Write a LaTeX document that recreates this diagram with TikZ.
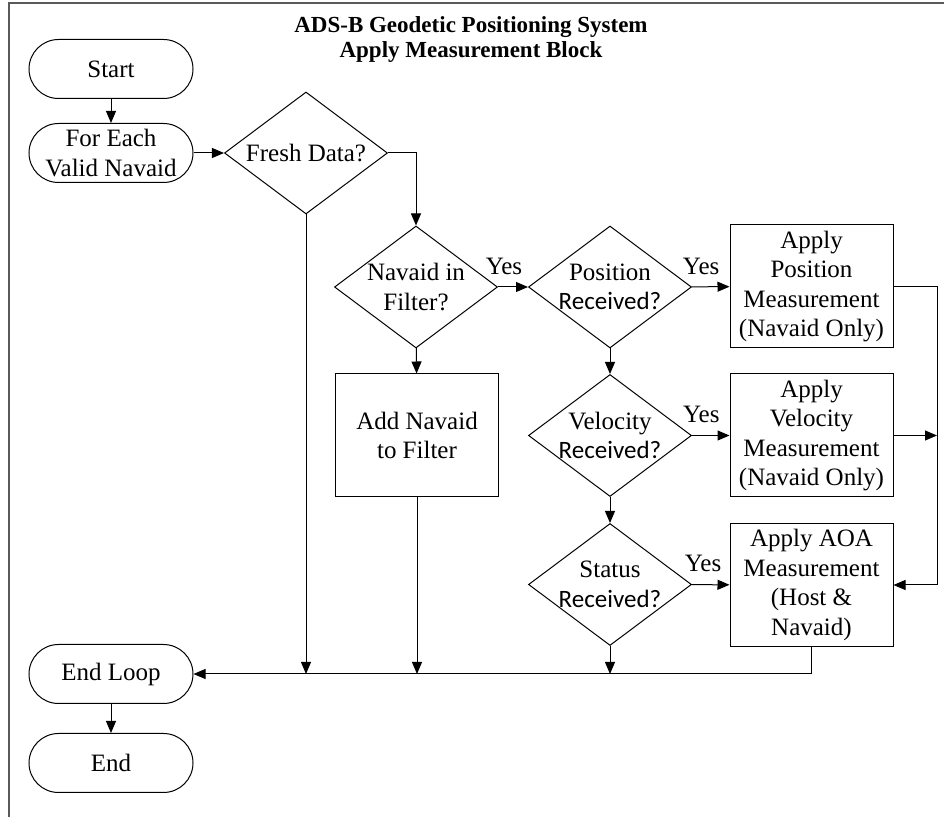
\documentclass[tikz,border=0pt]{standalone}
\usepackage{fontspec}
\setmainfont{Liberation Serif}
\newfontfamily\rcvfont{Carlito}
\usetikzlibrary{arrows.meta,positioning,shapes.geometric,calc}
\newcommand{\rcv}{{\rcvfont Received?}}

\begin{document}
\begin{tikzpicture}[x=0.5pt,y=-0.5pt,>={Triangle[length=6pt,width=5pt]},line width=0.5pt,
  every node/.style={font=\fontsize{12.5}{14.75}\selectfont},
  term/.style={draw,rounded corners=14.75pt,minimum width=82pt,minimum height=29.5pt,align=center,inner sep=0pt},
  proc/.style={draw,minimum width=81.5pt,minimum height=61.5pt,align=center,inner sep=0pt},
  dec/.style={draw,diamond,minimum width=81.5pt,minimum height=61pt,inner sep=0pt},
  yes/.style={inner sep=1pt,above=5pt}]
  \useasboundingbox (0,0) rectangle (944,817);
  \draw[gray!70!black,line width=1pt] (9,817) -- (9,3) -- (944,3);

  \node[font=\bfseries\fontsize{11.5}{12.5}\selectfont,align=center] (title) at (471,40)
    {ADS-B Geodetic Positioning System\\Apply Measurement Block};

  % left column
  \node[term] (start) at (111,69) {Start};
  \node[term] (each) at (111,153) {For Each\\Valid Navaid};
  \node[term] (endloop) at (111,674) {End Loop};
  \node[term] (stop) at (111,763) {End};

  % decisions
  \node[dec,label={center:Fresh Data?}] (fresh) at (306,153) {};
  \node[dec,label={[align=center]center:Navaid in\\Filter?}] (navin) at (416,287) {};
  \node[dec,label={[align=center]center:Position\\\rcv}] (posrec) at (610,287) {};
  \node[dec,label={[align=center]center:Velocity\\\rcv}] (velrec) at (610,435.5) {};
  \node[dec,label={[align=center]center:Status\\\rcv}] (statrec) at (610,584.5) {};

  % processes
  \node[proc] (addnav) at (417,435.5) {Add Navaid\\to Filter};
  \node[proc] (appos) at (811.5,286.5) {Apply\\Position\\Measurement\\(Navaid Only)};
  \node[proc] (apvel) at (811.5,435.5) {Apply\\Velocity\\Measurement\\(Navaid Only)};
  \node[proc] (apaoa) at (811.5,585) {Apply AOA\\Measurement\\(Host \&\\Navaid)};
  \coordinate (rbus) at (937,286.5);

  \draw[->] (start) -- (each);
  \draw[->] (each) -- (fresh);
  \draw[->] (fresh.east) -| (navin.north);
  \draw[->] (navin) -- node[yes,pos=0.2] {Yes} (posrec);
  \draw[->] (navin) -- (addnav);
  \draw[->] (posrec) -- node[yes,pos=0.25] {Yes} (appos);
  \draw[->] (posrec) -- (velrec);
  \draw[->] (velrec) -- node[yes,pos=0.25] {Yes} (apvel);
  \draw[->] (velrec) -- (statrec);
  \draw[->] (statrec) -- node[yes,pos=0.3] {Yes} (apaoa);
  \draw[->] (appos.east) -- (rbus) |- (apaoa.east);
  \draw[->] (apvel.east) -- (apvel.east -| rbus);
  \draw[->] (apaoa.south) |- (endloop.east);
  \draw[->] (fresh.south) -- (fresh.south |- endloop.east);
  \draw[->] (addnav.south) -- (addnav.south |- endloop.east);
  \draw[->] (statrec.south) -- (statrec.south |- endloop.east);
  \draw[->] (endloop) -- (stop);
\end{tikzpicture}
\end{document}
